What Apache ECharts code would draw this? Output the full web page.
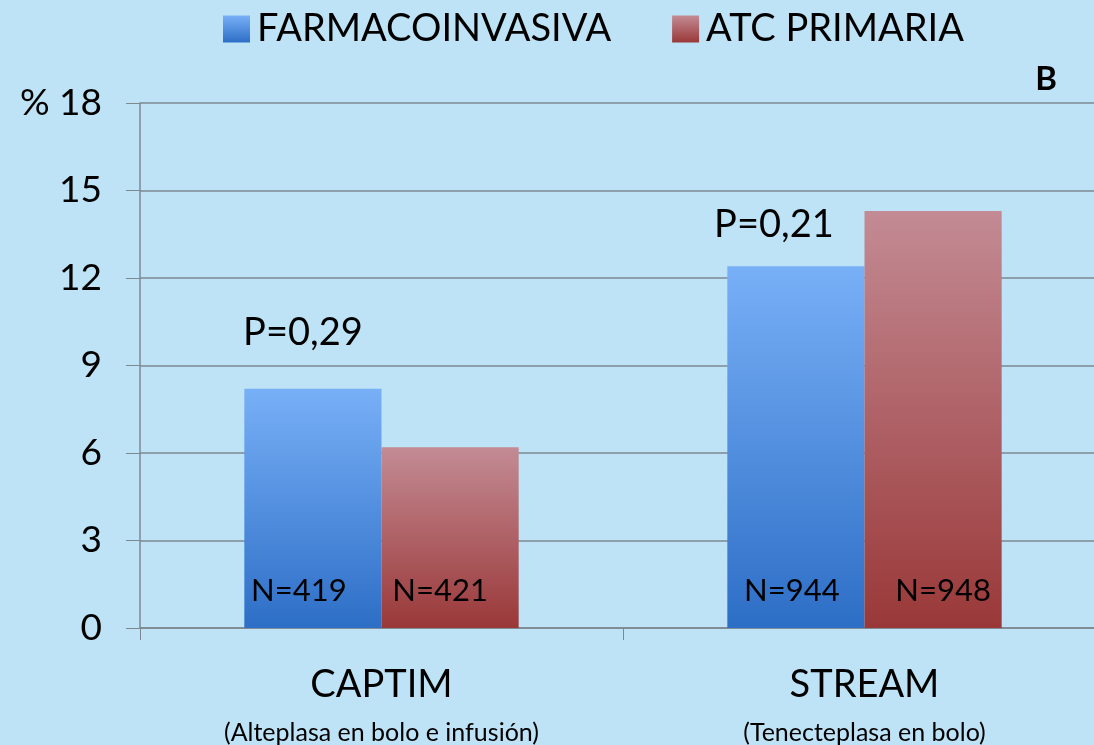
<!DOCTYPE html>
<html>
<head>
<meta charset="utf-8">
<script src="https://cdn.jsdelivr.net/npm/echarts@6/dist/echarts.min.js"></script>
<style>
  html, body { margin: 0; padding: 0; background: #bee3f6; }
  #chart { width: 1094px; height: 745px; }
</style>
</head>
<body>
<div id="chart"></div>
<script>
const categories = ['CAPTIM', 'STREAM'];
const subtitles = ['(Alteplasa en bolo e infusión)', '(Tenecteplasa en bolo)'];
const farmacoinvasiva = [8.2, 12.4];
const atcPrimaria = [6.2, 14.3];
const nFarmaco = ['N=419', 'N=944'];
const nAtc = ['N=421', 'N=948'];
const pValues = ['P=0,29', 'P=0,21'];
const yTicks = [0, 3, 6, 9, 12, 15, 18];

const FONT = 'Lato';

function grad(top, bottom) {
  return new echarts.graphic.LinearGradient(0, 0, 0, 1, [
    { offset: 0, color: top },
    { offset: 1, color: bottom }
  ]);
}

const chart = echarts.init(document.getElementById('chart'));
chart.setOption({
  backgroundColor: '#bee3f6',
  textStyle: { fontFamily: FONT, color: '#000' },
  title: {
    text: 'B',
    right: 32,
    top: 58,
    textStyle: { fontFamily: FONT, fontSize: 33, fontWeight: 'bold', color: '#000' }
  },
  legend: {
    top: 5,
    left: 218,
    icon: 'rect',
    itemWidth: 27,
    itemHeight: 27,
    itemGap: 61,
    textStyle: { fontFamily: FONT, fontSize: 38, color: '#000', padding: [0, 0, 0, 2] },
    data: ['FARMACOINVASIVA', 'ATC PRIMARIA']
  },
  grid: { left: 140, right: -12, top: 103, bottom: 117, outerBoundsMode: 'none', containLabel: false },
  xAxis: {
    type: 'category',
    data: categories,
    axisLine: { lineStyle: { color: '#7d8890', width: 1.5 } },
    axisTick: { show: true, length: 12, lineStyle: { color: '#7d8890' } },
    axisLabel: {
      margin: 32,
      formatter: (v, i) => '{a|' + v + '}\n{b|' + subtitles[i] + '}',
      rich: {
        a: { fontFamily: FONT, fontSize: 38, color: '#000', lineHeight: 50 },
        b: { fontFamily: FONT, fontSize: 25, color: '#000', lineHeight: 46 }
      }
    }
  },
  yAxis: {
    type: 'value',
    min: yTicks[0],
    max: yTicks[yTicks.length - 1],
    interval: 3,
    axisLine: { show: true, lineStyle: { color: '#7d8890', width: 1.5 } },
    axisTick: { show: true, length: 14, lineStyle: { color: '#7d8890' } },
    splitLine: { lineStyle: { color: '#7d8890', width: 1.5 } },
    axisLabel: {
      margin: 38,
      fontFamily: FONT,
      fontSize: 37,
      color: '#000',
      formatter: v => (v === 18 ? '% 18' : String(v))
    }
  },
  series: [
    {
      name: 'FARMACOINVASIVA',
      type: 'bar',
      barWidth: '28.4%',
      barGap: '0%',
      itemStyle: { color: grad('#78b0f7', '#2d6ec6') },
      data: farmacoinvasiva.map((v, i) => ({
        value: v,
        label: { offset: [i === 0 ? -14 : -4, 0] }
      })),
      label: {
        show: true,
        position: 'insideBottom',
        distance: 22,
        fontFamily: FONT,
        fontSize: 31,
        color: '#000',
        formatter: p => nFarmaco[p.dataIndex]
      },
      markPoint: {
        symbol: 'rect',
        symbolSize: 1,
        itemStyle: { color: 'transparent' },
        label: {
          show: true,
          fontFamily: FONT,
          fontSize: 38,
          color: '#000',
          formatter: p => p.name
        },
        data: [
          { name: pValues[0], coord: [0, farmacoinvasiva[0]], symbolOffset: [-10, -56] },
          { name: pValues[1], coord: [1, farmacoinvasiva[1]], symbolOffset: [-22, -42] }
        ]
      }
    },
    {
      name: 'ATC PRIMARIA',
      type: 'bar',
      barWidth: '28.4%',
      itemStyle: { color: grad('#c38b94', '#9a3838') },
      data: atcPrimaria.map((v, i) => ({
        value: v,
        label: { offset: [i === 0 ? -10 : 10, 0] }
      })),
      label: {
        show: true,
        position: 'insideBottom',
        distance: 22,
        fontFamily: FONT,
        fontSize: 31,
        color: '#000',
        formatter: p => nAtc[p.dataIndex]
      }
    }
  ]
});
</script>
</body>
</html>
